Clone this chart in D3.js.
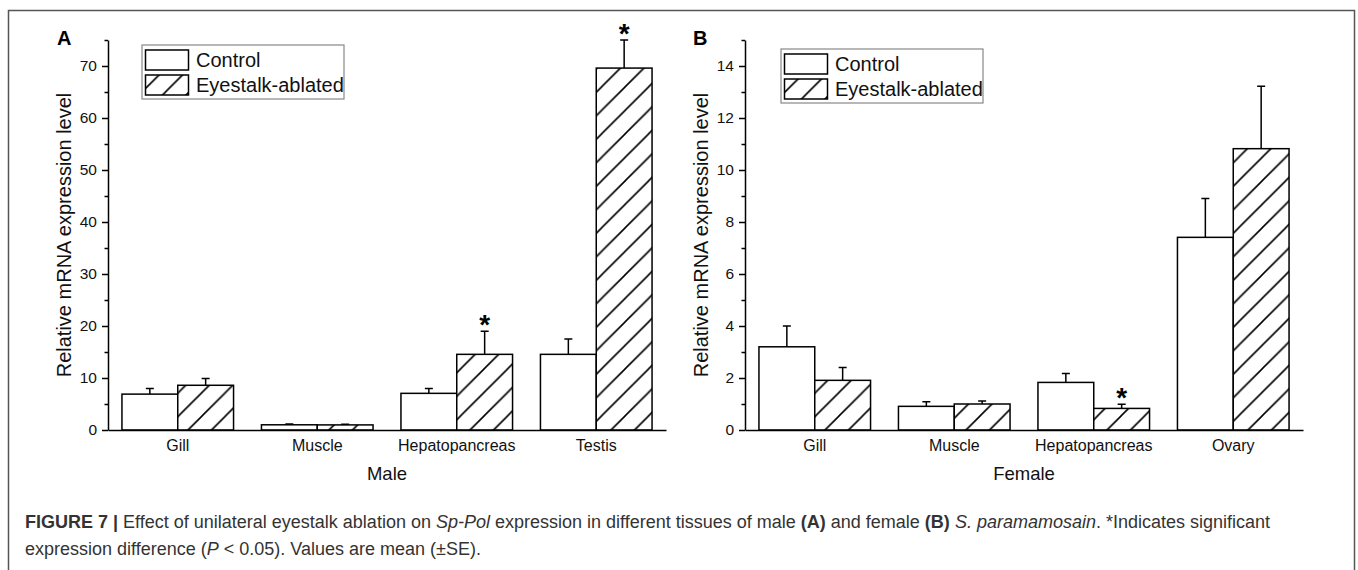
<!DOCTYPE html>
<html>
<head>
<meta charset="utf-8">
<script src="https://cdn.jsdelivr.net/npm/d3@7"></script>
<style>
  body { margin: 0; background: #fff; }
  svg { display: block; font-family: "Liberation Sans", Arial, sans-serif; }
</style>
</head>
<body>
<svg id="chart" width="1358" height="570"></svg>
<script>
// data (mean values, SE shown as upward error bars)
const maleTissues = ["Gill", "Muscle", "Hepatopancreas", "Testis"];
const maleControl = [6.9, 1.0, 7.05, 14.55];
const maleControlSE = [1.1, 0.15, 0.95, 2.95];
const maleAblated = [8.6, 0.98, 14.55, 69.6];
const maleAblatedSE = [1.3, 0.14, 4.45, 5.4];
const maleSig = [false, false, true, true];

const femaleTissues = ["Gill", "Muscle", "Hepatopancreas", "Ovary"];
const femaleControl = [3.2, 0.91, 1.83, 7.41];
const femaleControlSE = [0.8, 0.18, 0.34, 1.49];
const femaleAblated = [1.91, 1.0, 0.83, 10.82];
const femaleAblatedSE = [0.49, 0.12, 0.16, 2.4];
const femaleSig = [false, false, true, false];

const legendLabels = ["Control", "Eyestalk-ablated"];

const svg = d3.select("#chart");

// hatch pattern for ablated bars
const hatch = 23.5;
svg.append("defs")
  .append("pattern")
  .attr("id", "hatch")
  .attr("patternUnits", "userSpaceOnUse")
  .attr("width", hatch)
  .attr("height", hatch)
  .call((p) => {
    p.append("rect").attr("width", hatch).attr("height", hatch).attr("fill", "#fff");
    p.append("path")
      .attr("d", `M-2,${hatch + 2}L${hatch + 2},-2M-2,2L2,-2M${hatch - 2},${hatch + 2}L${hatch + 2},${hatch - 2}`)
      .attr("stroke", "#000")
      .attr("stroke-width", 1.6);
  });

// outer frame
svg.append("rect")
  .attr("x", 8.5).attr("y", 10.5)
  .attr("width", 1346).attr("height", 600)
  .attr("fill", "none")
  .attr("stroke", "#555")
  .attr("stroke-width", 1.5);

function drawPanel(opts) {
  const width = 558, height = 390;
  const g = svg.append("g").attr("transform", `translate(${opts.left}, 40)`);

  const x = d3.scaleBand().domain(opts.tissues).range([0, width])
    .paddingInner(0.2).paddingOuter(0.1);
  const sub = d3.scaleBand().domain([0, 1]).range([0, x.bandwidth()]);
  const y = d3.scaleLinear().domain([0, opts.ymax]).range([height, 0]);

  const rows = opts.tissues.map((t, i) => [
    { tissue: t, k: 0, v: opts.control[i], se: opts.controlSE[i], sig: false },
    { tissue: t, k: 1, v: opts.ablated[i], se: opts.ablatedSE[i], sig: opts.sig[i] },
  ]).flat();

  // bars
  g.selectAll("rect.bar")
    .data(rows)
    .join("rect")
    .attr("class", "bar")
    .attr("x", (d) => x(d.tissue) + sub(d.k))
    .attr("y", (d) => y(d.v))
    .attr("width", sub.bandwidth())
    .attr("height", (d) => y(0) - y(d.v))
    .attr("fill", (d) => (d.k === 1 ? "url(#hatch)" : "#fff"))
    .attr("stroke", "#000")
    .attr("stroke-width", 1.5);

  // error bars (upper only)
  const cx = (d) => x(d.tissue) + sub(d.k) + sub.bandwidth() / 2;
  g.selectAll("path.err")
    .data(rows)
    .join("path")
    .attr("class", "err")
    .attr("d", (d) => `M${cx(d)},${y(d.v)}V${y(d.v + d.se)}M${cx(d) - 4},${y(d.v + d.se)}H${cx(d) + 4}`)
    .attr("stroke", "#000")
    .attr("stroke-width", 1.5)
    .attr("fill", "none");

  // significance stars
  g.selectAll("text.star")
    .data(rows.filter((d) => d.sig))
    .join("text")
    .attr("class", "star")
    .attr("x", cx)
    .attr("y", (d) => y(d.v + d.se) + 3)
    .attr("text-anchor", "middle")
    .attr("font-size", 28)
    .attr("font-weight", "bold")
    .text("*");

  // y axis
  const yAxis = g.append("g")
    .call(d3.axisLeft(y).tickValues(d3.range(0, opts.ymax + 0.01, opts.major))
      .tickSize(6).tickSizeOuter(0).tickPadding(5));
  yAxis.selectAll("text").attr("font-size", 15.5).attr("fill", "#111");
  yAxis.selectAll("line, path").attr("stroke", "#000").attr("stroke-width", 1.5);
  const minor = g.append("g")
    .call(d3.axisLeft(y).tickValues(d3.range(opts.major / 2, opts.ymax + 0.01, opts.major))
      .tickSize(3.5).tickSizeOuter(0).tickFormat(""));
  minor.select(".domain").remove();
  minor.selectAll("line").attr("stroke", "#000").attr("stroke-width", 1.5);

  // x axis
  const xAxis = g.append("g")
    .attr("transform", `translate(0, ${height})`)
    .call(d3.axisBottom(x).tickSize(0).tickSizeOuter(0).tickPadding(10));
  xAxis.select(".domain").attr("stroke", "#000").attr("stroke-width", 1.5);
  xAxis.selectAll("text").attr("font-size", 16).attr("fill", "#111");

  // axis titles
  g.append("text")
    .attr("transform", `translate(-37, ${height / 2}) rotate(-90)`)
    .attr("text-anchor", "middle")
    .attr("font-size", 20)
    .attr("fill", "#111")
    .text("Relative mRNA expression level");
  g.append("text")
    .attr("x", width / 2)
    .attr("y", height + 50)
    .attr("text-anchor", "middle")
    .attr("font-size", 18.5)
    .attr("fill", "#111")
    .text(opts.sex);

  // panel letter
  g.append("text")
    .attr("x", opts.letterX)
    .attr("y", 5)
    .attr("font-size", 20)
    .attr("font-weight", "bold")
    .text(opts.letter);

  // legend
  const lg = g.append("g").attr("transform", `translate(${opts.legendX}, ${opts.legendY})`);
  lg.append("rect")
    .attr("width", 202).attr("height", 54)
    .attr("fill", "#fff").attr("stroke", "#888").attr("stroke-width", 1.2);
  legendLabels.forEach((lab, i) => {
    lg.append("rect")
      .attr("x", 3.5).attr("y", 5 + i * 25)
      .attr("width", 43).attr("height", 20)
      .attr("fill", i === 1 ? "url(#hatch)" : "#fff")
      .attr("stroke", "#000").attr("stroke-width", 1.5);
    lg.append("text")
      .attr("x", 54).attr("y", 22 + i * 25)
      .attr("font-size", 20)
      .attr("fill", "#111")
      .text(lab);
  });
}

drawPanel({
  left: 108, tissues: maleTissues, control: maleControl, controlSE: maleControlSE,
  ablated: maleAblated, ablatedSE: maleAblatedSE, sig: maleSig,
  ymax: 75, major: 10, sex: "Male", letter: "A", letterX: -51, legendX: 34, legendY: 5,
});
drawPanel({
  left: 745, tissues: femaleTissues, control: femaleControl, controlSE: femaleControlSE,
  ablated: femaleAblated, ablatedSE: femaleAblatedSE, sig: femaleSig,
  ymax: 15, major: 2, sex: "Female", letter: "B", letterX: -52, legendX: 36, legendY: 9,
});

// caption
const cap = svg.append("g").attr("font-size", 18).attr("fill", "#333");
const line1 = cap.append("text").attr("x", 25).attr("y", 528);
[
  ["FIGURE 7 | ", "bold"], ["Effect of unilateral eyestalk ablation on "], ["Sp-Pol", "italic"],
  [" expression in different tissues of male "], ["(A)", "bold"], [" and female "], ["(B)", "bold"],
  [" "], ["S. paramamosain", "italic"], [". *Indicates significant"],
].forEach(([t, s]) => {
  line1.append("tspan")
    .attr("font-weight", s === "bold" ? "bold" : null)
    .attr("font-style", s === "italic" ? "italic" : null)
    .text(t);
});
const line2 = cap.append("text").attr("x", 25).attr("y", 555);
[["expression difference ("], ["P", "italic"], [" < 0.05). Values are mean (±SE)."]].forEach(([t, s]) => {
  line2.append("tspan").attr("font-style", s === "italic" ? "italic" : null).text(t);
});
</script>
</body>
</html>
